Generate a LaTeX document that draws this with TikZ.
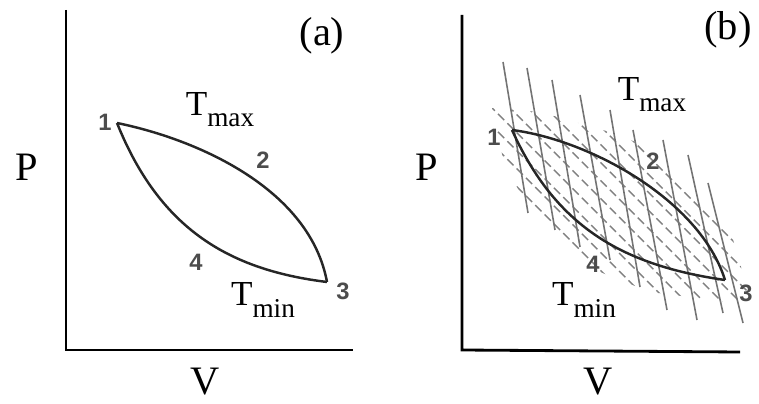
\documentclass[tikz,border=0pt]{standalone}
\usepackage{fontspec}
\setmainfont{Liberation Serif}
\newfontfamily\numfont{Liberation Sans}
\usetikzlibrary{positioning, calc}

\begin{document}
\begin{tikzpicture}[
  x=0.02cm, y=-0.02cm,
  axis/.style={draw=black, line width=1.6pt},
  cycle/.style={draw=black!85, line width=1.4pt},
  lab/.style={font=\fontsize{23}{23}\selectfont, inner sep=0pt},
  tlab/.style={font=\fontsize{20}{20}\selectfont, inner sep=0pt},
  num/.style={font=\numfont\bfseries\fontsize{13.5}{13.5}\selectfont, text=black!70, inner sep=0pt},
  adiab/.style={draw=black!55, line width=0.9pt},
  isot/.style={draw=black!50, line width=0.8pt, dash pattern=on 5pt off 2.5pt},
]
\useasboundingbox (0,0) rectangle (759,404);

% Panel (a)
\coordinate (oa) at (66,350);
\coordinate (ya) at (66,10);
\coordinate (xa) at (353,350);
\draw[axis] (ya) -- (oa) -- (xa);
\coordinate (a1) at (117,123);
\coordinate (a3) at (327,282);
\draw[cycle] (a1) .. controls (200,140) and (310,190) .. (a3);
\draw[cycle] (a1) .. controls (160,230) and (230,270) .. (a3);
\node[num] (na1) at (105,122) {1};
\node[num] (na2) at (263,160) {2};
\node[num] (na3) at (343,291) {3};
\node[num] (na4) at (196,262) {4};
\node[tlab] (tmaxa) at (220,110) {T\raisebox{-0.32em}{\fontsize{15.5}{15.5}\selectfont max}};
\node[tlab] (tmina) at (263,300) {T\raisebox{-0.32em}{\fontsize{15.5}{15.5}\selectfont min}};
\node[lab] (pa) at (27,167) {P};
\node[lab] (va) at (205,382) {V};
\node[lab] (taga) at (322,36) {(a)};

% Panel (b)
\coordinate (ob) at (462,350);
\coordinate (yb) at (462,15);
\coordinate (xb) at (740,352);
\coordinate (b1) at (512,130);
\coordinate (b3) at (725,280);
% hatching
\begin{scope}
  \clip (492,108) -- (540,112) -- (620,135) -- (685,165) -- (725,212) -- (750,298)
        -- (728,302) -- (650,292) -- (590,268) -- (545,232) -- (505,168) -- cycle;
  \foreach \c in {-492,-474,...,-330}
    \draw[isot] (470,470+\c) -- (760,760+\c);
\end{scope}
\foreach \tx/\ty/\bx/\by in {503/62/528/213, 527/68/555/230, 552/80/580/247,
    580/95/610/260, 610/110/640/287, 633/130/667/310, 663/140/697/320,
    688/155/723/313, 708/183/743/323}
  \draw[adiab] (\tx,\ty) -- (\bx,\by);
\draw[axis] (yb) -- (ob) -- (xb);
\draw[cycle] (b1) .. controls (590,140) and (700,200) .. (b3);
\draw[cycle] (b1) .. controls (555,225) and (620,265) .. (b3);
\node[num] (nb1) at (494,137) {1};
\node[num] (nb2) at (653,161) {2};
\node[num] (nb3) at (746,293) {3};
\node[num] (nb4) at (593,264) {4};
\node[tlab] (tmaxb) at (652,95) {T\raisebox{-0.32em}{\fontsize{15.5}{15.5}\selectfont max}};
\node[tlab] (tminb) at (584,300) {T\raisebox{-0.32em}{\fontsize{15.5}{15.5}\selectfont min}};
\node[lab] (pb) at (427,167) {P};
\node[lab] (vb) at (598,382) {V};
\node[lab] (tagb) at (728,30) {(b)};
\end{tikzpicture}
\end{document}
